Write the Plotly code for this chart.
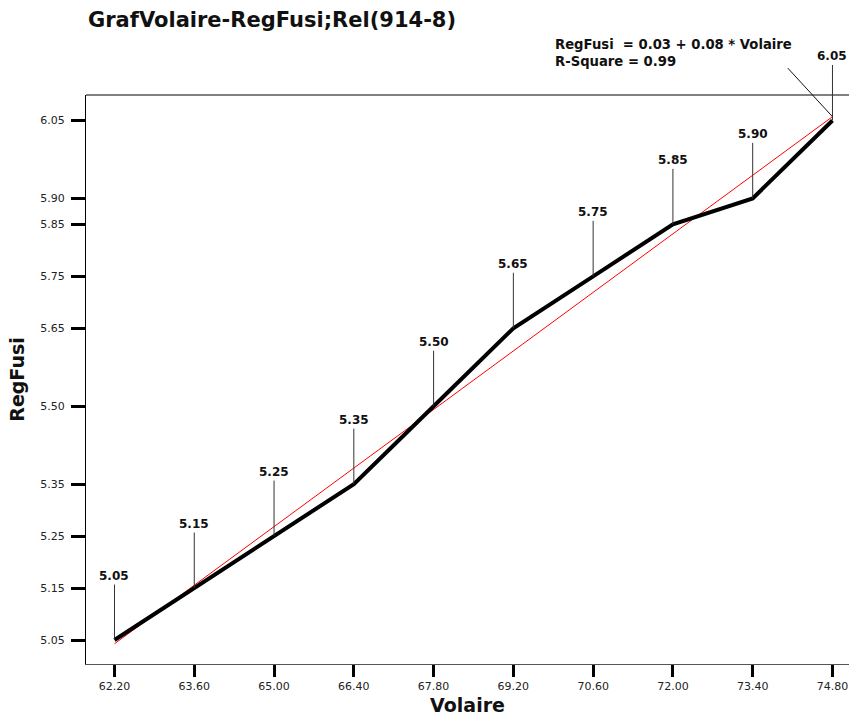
import numpy as np
import plotly.graph_objects as go

volaire = [62.20, 63.60, 65.00, 66.40, 67.80, 69.20, 70.60, 72.00, 73.40, 74.80]
regfusi = [5.05, 5.15, 5.25, 5.35, 5.50, 5.65, 5.75, 5.85, 5.90, 6.05]
x_ticks = [62.20, 63.60, 65.00, 66.40, 67.80, 69.20, 70.60, 72.00, 73.40, 74.80]
y_ticks = [5.05, 5.15, 5.25, 5.35, 5.50, 5.65, 5.75, 5.85, 5.90, 6.05]
title_text = "GrafVolaire-RegFusi;Rel(914-8)"
reg_text = "RegFusi  = 0.03 + 0.08 * Volaire<br>R-Square = 0.99"

# least-squares regression line from the data
slope, intercept = np.polyfit(volaire, regfusi, 1)
fit = [intercept + slope * v for v in volaire]

BOLD = "DejaVu Sans"

fig = go.Figure()
fig.add_trace(go.Scatter(x=volaire, y=fit, mode="lines",
                         line=dict(color="#ff0000", width=1), hoverinfo="skip"))
fig.add_trace(go.Scatter(x=volaire, y=regfusi, mode="lines",
                         line=dict(color="#000000", width=4)))

annotations = []
for xv, yv in zip(volaire, regfusi):
    annotations.append(dict(x=xv, y=yv, xref="x", yref="y", text=f"<b>{yv:.2f}</b>",
                            showarrow=True, arrowhead=0, arrowwidth=1, arrowcolor="#333333",
                            ax=0, ay=-64, font=dict(family=BOLD, size=12, color="#111111")))
# regression equation text
annotations.append(dict(x=(553 - 86) / 763, y=1 + (95 - 35) / 569, xref="paper", yref="paper",
                        text=f"<b>{reg_text}</b>", showarrow=False, xanchor="left", yanchor="top",
                        align="left", font=dict(family=BOLD, size=13.2, color="#111111")))
# pointer from equation to regression line end
annotations.append(dict(x=volaire[-1], y=fit[-1], xref="x", yref="y", text="",
                        showarrow=True, arrowhead=0, arrowwidth=1, arrowcolor="#111111",
                        ax=-46, ay=-50))

fig.update_layout(
    width=849, height=716,
    margin=dict(l=86, r=0, t=95, b=52),
    paper_bgcolor="white", plot_bgcolor="white",
    showlegend=False,
    title=dict(text=f"<b>{title_text}</b>", x=88 / 849, xref="container", xanchor="left",
               y=1 - 20 / 716, yanchor="middle", yref="container",
               font=dict(family=BOLD, size=21, color="#111111")),
    annotations=annotations,
    shapes=[dict(type="line", xref="paper", yref="paper", x0=0, x1=1, y0=1, y1=1,
                 line=dict(color="#000000", width=1))],
)
fig.update_xaxes(range=[61.70, 75.09], tickvals=x_ticks, ticktext=[f"{v:.2f}" for v in x_ticks],
                 automargin=False,
                 showgrid=False, zeroline=False, showline=True, linecolor="#555555", linewidth=1,
                 ticks="outside", ticklen=12, tickwidth=3, tickcolor="#000000",
                 tickfont=dict(family="DejaVu Sans", size=11, color="#222222"),
                 title=dict(text="<b>Volaire</b>", standoff=11,
                            font=dict(family=BOLD, size=19, color="#111111")))
fig.update_yaxes(range=[5.0038, 6.099], tickvals=y_ticks, ticktext=[f"{v:.2f}" for v in y_ticks],
                 automargin=False, ticklabelstandoff=4,
                 showgrid=False, zeroline=False, showline=True, linecolor="#000000", linewidth=1,
                 ticks="outside", ticklen=14, tickwidth=3, tickcolor="#000000",
                 tickfont=dict(family="DejaVu Sans", size=11, color="#222222"),
                 title=dict(text="<b>RegFusi</b>", standoff=10,
                            font=dict(family=BOLD, size=19, color="#111111")))

fig.write_html("out.html", config={"displayModeBar": False},
               post_script="document.body.style.margin='0';")
